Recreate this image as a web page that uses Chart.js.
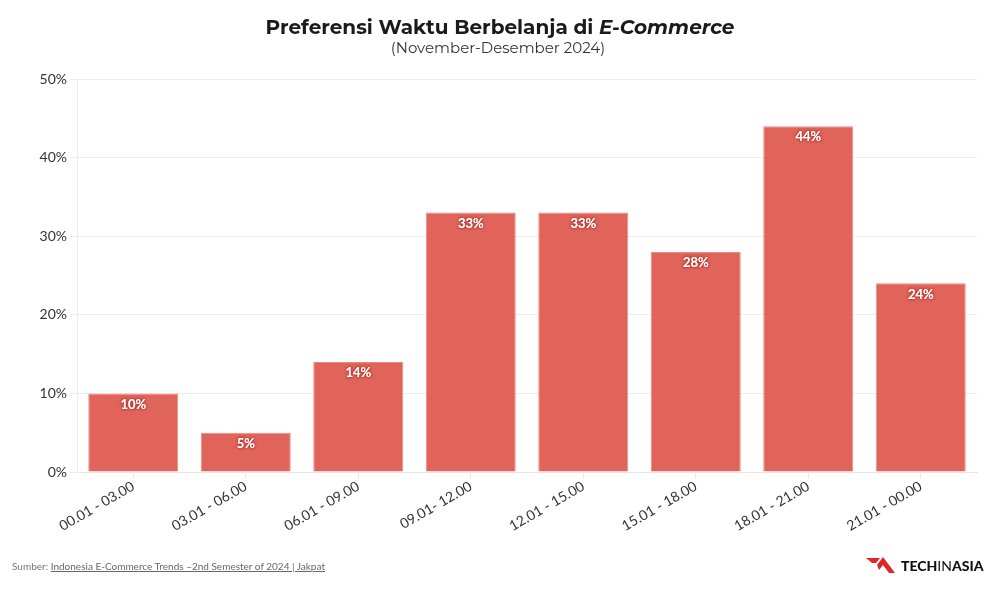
<!DOCTYPE html>
<html>
<head>
<meta charset="utf-8">
<script src="https://cdn.jsdelivr.net/npm/chart.js@4/dist/chart.umd.min.js"></script>
<style>
  html, body { margin: 0; padding: 0; background: #fff; }
  body { width: 1008px; height: 590px; position: relative; overflow: hidden; font-family: Lato, "Open Sans", sans-serif; }
  #wrap { position: absolute; left: 0; top: 0; width: 1008px; height: 590px; }
  .title { position: absolute; top: 15px; left: 0; width: 1000px; text-align: center; font-family: "Montserrat", Inter, "Open Sans", sans-serif; font-weight: 700; font-size: 20px; color: #1a1a1a; }
  .subtitle { position: absolute; top: 38px; left: 0; width: 996px; text-align: center; font-family: "Montserrat", Inter, "Open Sans", sans-serif; font-size: 15px; color: #333; }
  .source { position: absolute; left: 12px; top: 560px; font-size: 10px; color: #777; }
  .source span { text-decoration: underline; color: #666; }
  .logo { position: absolute; left: 866px; top: 556px; display: flex; align-items: center; font-family: Lato, sans-serif; font-size: 14px; font-weight: 900; color: #111; letter-spacing: 0px; }
  .logo svg { margin-right: 5px; }
  .logo .thin { font-weight: 400; }
</style>
</head>
<body>
<div id="wrap"><canvas id="chart" width="1008" height="590"></canvas></div>
<div class="title">Preferensi Waktu Berbelanja di <i>E-Commerce</i></div>
<div class="subtitle">(November-Desember 2024)</div>
<div class="source">Sumber: <span>Indonesia E-Commerce Trends –2nd Semester of 2024 | Jakpat</span></div>
<div class="logo">
  <svg width="30" height="18" viewBox="0 0 30 18">
    <polygon points="0,2 14,2 10,7 6,7" fill="#e0262b"/>
    <polygon points="11,9 17,1 29,17 23,17 17,9 13,14" fill="#e0262b"/>
  </svg>
  TECH<span class="thin">IN</span>ASIA
</div>
<script>
const categories = ["00.01 - 03.00", "03.01 - 06.00", "06.01 - 09.00", "09.01- 12.00", "12.01 - 15.00", "15.01 - 18.00", "18.01 - 21.00", "21.01 - 00.00"];
const shares = [10, 5, 14, 33, 33, 28, 44, 24];
const yTicks = [0, 10, 20, 30, 40, 50];

const barColor = "#e0645a";
const barBorder = "#e98c84";

const valueLabels = {
  id: "valueLabels",
  afterDatasetsDraw(chart) {
    const ctx = chart.ctx;
    const meta = chart.getDatasetMeta(0);
    ctx.save();
    ctx.font = "bold 13px Lato, sans-serif";
    ctx.textAlign = "center";
    ctx.textBaseline = "middle";
    meta.data.forEach((bar, i) => {
      const txt = shares[i] + "%";
      ctx.shadowColor = "#b02a24";
      ctx.shadowBlur = 3;
      ctx.fillStyle = "#fff";
      ctx.fillText(txt, bar.x, bar.y + 11);
      ctx.fillText(txt, bar.x, bar.y + 11);
    });
    ctx.restore();
  }
};

new Chart(document.getElementById("chart"), {
  type: "bar",
  data: {
    labels: categories,
    datasets: [{
      data: shares,
      backgroundColor: barColor,
      borderColor: barBorder,
      borderWidth: 1,
      categoryPercentage: 0.8,
      barPercentage: 1.0
    }]
  },
  options: {
    responsive: false,
    animation: false,
    layout: { padding: { left: 0, right: 31, top: 79, bottom: 0 } },
    plugins: { legend: { display: false }, tooltip: { enabled: false } },
    scales: {
      x: {
        grid: { display: true, drawOnChartArea: false, offset: false, color: "#e6e6e6", tickLength: 6 },
        border: { color: "#e6e6e6" },
        ticks: {
          color: "#333",
          font: { family: "Lato, sans-serif", size: 14 },
          maxRotation: 30, minRotation: 30, padding: 0
        },
        afterFit(scale) { scale.height = 118; }
      },
      y: {
        min: 0, max: 50,
        afterBuildTicks(scale) { scale.ticks = yTicks.map(v => ({ value: v })); },
        grid: { color: "#ececec", tickLength: 7 },
        border: { display: true, color: "#ececec" },
        ticks: {
          color: "#333",
          font: { family: "Lato, sans-serif", size: 14 },
          padding: 3,
          callback: v => v + "%"
        },
        afterFit(scale) { scale.width = 77; }
      }
    }
  },
  plugins: [valueLabels]
});
</script>
</body>
</html>
